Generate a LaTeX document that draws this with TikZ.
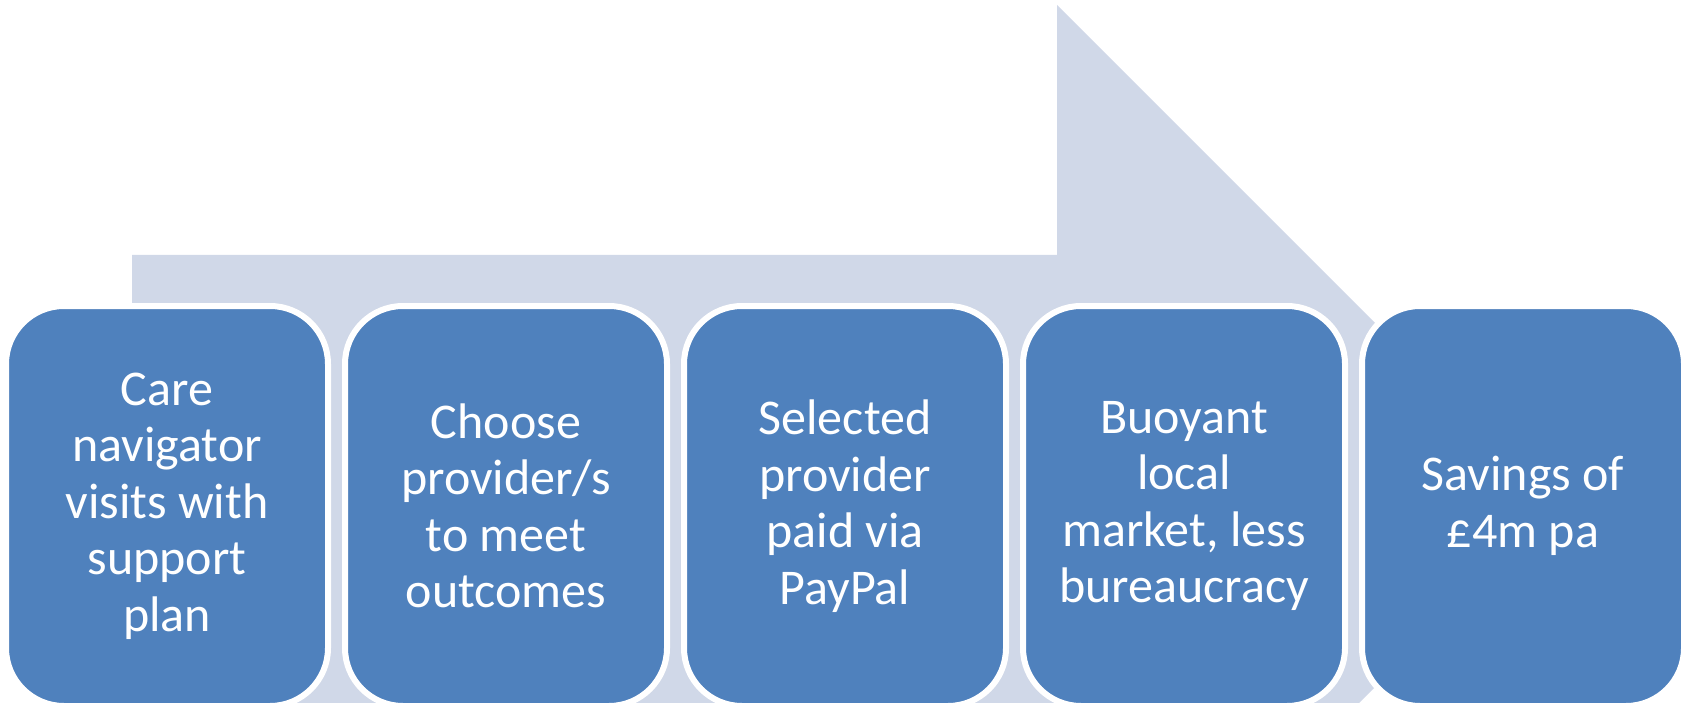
\documentclass[tikz,border=0pt]{standalone}
\usepackage{fontspec}
\setmainfont{Carlito}
\definecolor{boxblue}{HTML}{4F81BD}
\definecolor{arrowbg}{HTML}{D0D8E8}
\begin{document}
\begin{tikzpicture}[x=1pt,y=-1pt,
  stepbox/.style={rounded corners=58pt, fill=boxblue, draw=white, line width=6pt,
    minimum width=322pt, minimum height=400pt, text=white, align=center,
    font=\fontsize{50}{56.5}\selectfont, inner sep=0pt}]
\useasboundingbox (0,0) rectangle (1688,703);
\begin{scope}
\clip (0,0) rectangle (1688,703);
\fill[arrowbg] (132,255) -- (1057,255) -- (1057,5) -- (1557,505) -- (1057,1005) -- (1057,755) -- (132,755) -- cycle;
\end{scope}
\node[stepbox] (b1) at (167,506) {Care\\navigator\\visits with\\support\\plan};
\node[stepbox] (b2) at (506,506) {Choose\\provider/s\\to meet\\outcomes};
\node[stepbox] (b3) at (845,506) {Selected\\provider\\paid via\\PayPal};
\node[stepbox] (b4) at (1184,506) {Buoyant\\local\\market, less\\bureaucracy};
\node[stepbox] (b5) at (1523,506) {Savings of\\\pounds4m pa};
\end{tikzpicture}
\end{document}
